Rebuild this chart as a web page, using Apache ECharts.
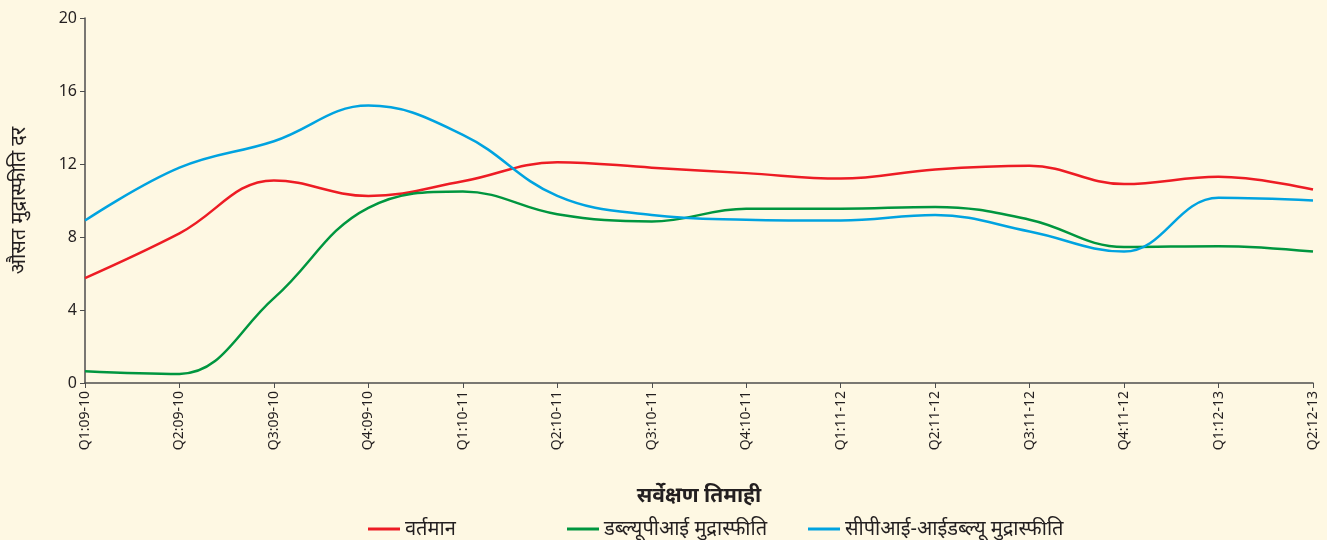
<!DOCTYPE html>
<html>
<head>
<meta charset="utf-8">
<script src="https://cdn.jsdelivr.net/npm/echarts@6/dist/echarts.min.js"></script>
<style>
  html, body { margin: 0; padding: 0; background: #fef8e3; }
  #main { width: 1327px; height: 540px; }
</style>
</head>
<body>
<div id="main"></div>
<script>
// quarters of the survey
var quarters = ['Q1:09-10', 'Q2:09-10', 'Q3:09-10', 'Q4:09-10', 'Q1:10-11', 'Q2:10-11', 'Q3:10-11',
  'Q4:10-11', 'Q1:11-12', 'Q2:11-12', 'Q3:11-12', 'Q4:11-12', 'Q1:12-13', 'Q2:12-13'];
var current = [5.75, 8.2, 11.1, 10.25, 11.05, 12.1, 11.8, 11.5, 11.2, 11.7, 11.9, 10.9, 11.3, 10.6];
var wpi = [0.65, 0.5, 4.65, 9.6, 10.5, 9.25, 8.85, 9.55, 9.55, 9.65, 8.95, 7.45, 7.5, 7.2];
var cpi = [8.9, 11.8, 13.25, 15.2, 13.6, 10.25, 9.2, 8.95, 8.9, 9.2, 8.3, 7.2, 10.15, 10.0];
var yTicks = [0, 4, 8, 12, 16, 20];

var txt = '#231f20';
var font = '"Noto Sans", "Noto Sans Devanagari", sans-serif';

var chart = echarts.init(document.getElementById('main'));

function legendAt(name, left) {
  return {
    data: [name], left: left, top: 514,
    itemWidth: 32, itemHeight: 3, itemGap: 0,
    icon: 'rect',
    textStyle: { color: txt, fontSize: 20, fontFamily: font }
  };
}

chart.setOption({
  backgroundColor: '#fef8e3',
  animation: false,
  grid: { left: 85, right: 14, top: 18, bottom: 157, outerBoundsMode: 'none' },
  legend: [
    legendAt('वर्तमान', 363),
    legendAt('डब्ल्यूपीआई मुद्रास्फीति', 562),
    legendAt('सीपीआई-आईडब्ल्यू मुद्रास्फीति', 803)
  ],
  xAxis: {
    type: 'category',
    data: quarters,
    boundaryGap: false,
    name: 'सर्वेक्षण तिमाही',
    nameLocation: 'middle',
    nameGap: 103,
    nameTextStyle: { color: txt, fontSize: 21, fontWeight: 'bold', fontFamily: font },
    axisLine: { lineStyle: { color: '#4d4d4d', width: 1.5 } },
    axisTick: { alignWithLabel: true, length: 5, lineStyle: { color: '#4d4d4d' } },
    axisLabel: { rotate: 90, color: txt, fontSize: 14, fontFamily: font, margin: 8, interval: 0 },
    splitLine: { show: false }
  },
  yAxis: {
    type: 'value',
    min: yTicks[0], max: yTicks[yTicks.length - 1], interval: 4,
    name: 'औसत मुद्रास्फीति दर',
    nameLocation: 'middle',
    nameGap: 56,
    nameTextStyle: { color: txt, fontSize: 20, fontFamily: font },
    axisLine: { show: true, lineStyle: { color: '#4d4d4d', width: 1.5 } },
    axisTick: { show: true, length: 5, lineStyle: { color: '#4d4d4d' } },
    axisLabel: { color: txt, fontSize: 16, fontFamily: font, margin: 8 },
    splitLine: { show: false }
  },
  series: [
    { name: 'वर्तमान', type: 'line', data: current, smooth: 0.4, symbol: 'none',
      color: '#ed1c24', lineStyle: { width: 2.5 } },
    { name: 'डब्ल्यूपीआई मुद्रास्फीति', type: 'line', data: wpi, smooth: 0.4, symbol: 'none',
      color: '#00963f', lineStyle: { width: 2.5 } },
    { name: 'सीपीआई-आईडब्ल्यू मुद्रास्फीति', type: 'line', data: cpi, smooth: 0.4, symbol: 'none',
      color: '#00a3e0', lineStyle: { width: 2.5 } }
  ]
});
</script>
</body>
</html>
